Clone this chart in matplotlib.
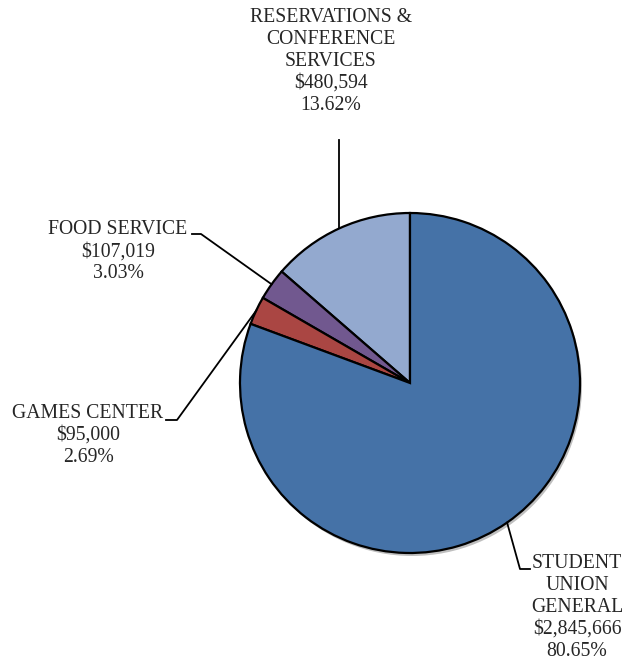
import numpy as np
import matplotlib.pyplot as plt
from matplotlib.patches import Circle

# Budget breakdown by department
names = [["RESERVATIONS &", "CONFERENCE", "SERVICES"],
         ["FOOD SERVICE"],
         ["GAMES CENTER"],
         ["STUDENT", "UNION", "GENERAL"]]
values = [480594, 107019, 95000, 2845666]
colors = ["#93A9CF", "#71588F", "#AA4643", "#4572A7"]

W, H = 630, 665
cx, cy, r = 410, H - 383, 170

fig = plt.figure(figsize=(W / 100, H / 100), dpi=100)
ax = fig.add_axes([0, 0, 1, 1])

# soft shadow under the pie
ax.add_patch(Circle((cx + 2, cy - 3), r, color="#000000", alpha=0.25, lw=0, zorder=0))

wedges, _ = ax.pie(values, colors=colors, startangle=90, counterclock=True,
                   center=(cx, cy), radius=r,
                   wedgeprops=dict(edgecolor="black", linewidth=1.6))
ax.set_xlim(0, W)
ax.set_ylim(0, H)
ax.axis("off")

total = sum(values)
pcts = [v / total * 100 for v in values]

# label block centre (x, y of first line in pixels from top)
label_pos = [(331, 17), (118, 230), (88, 413), (577, 563)]
pitch = 22

for i, (w, v, p) in enumerate(zip(wedges, values, pcts)):
    lines = names[i] + [f"${v:,}", f"{p:.2f}%"]
    lx, ly = label_pos[i]
    for k, s in enumerate(lines):
        ax.text(lx, H - (ly + k * pitch), s, ha="center", va="center",
                fontsize=14.2, family="Liberation Serif", color="#262626")

    # leader line end on the wedge edge at mid angle
    ang = np.deg2rad((w.theta1 + w.theta2) / 2)
    ex, ey = cx + r * np.cos(ang), cy + r * np.sin(ang)
    if i == 0:
        xs, ys = [ex, ex], [H - 140, ey]
    elif i == 1:
        xs, ys = [192, 201, ex], [H - 234, H - 234, ey]
    elif i == 2:
        xs, ys = [166, 177, ex], [H - 420, H - 420, ey]
    else:
        xs, ys = [530, 520, ex], [H - 569, H - 569, ey]
    ax.plot(xs, ys, color="black", lw=1.3, zorder=5)

fig.savefig("out.png", dpi=100)
